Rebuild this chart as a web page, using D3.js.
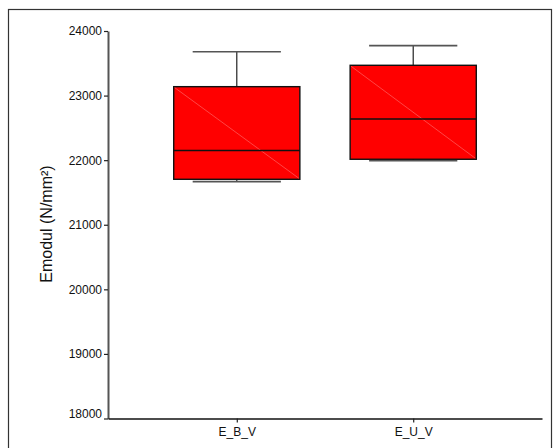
<!DOCTYPE html>
<html>
<head>
<meta charset="utf-8">
<script src="https://cdn.jsdelivr.net/npm/d3@7"></script>
<style>
  body { margin: 0; background: #fff; }
  svg { display: block; font-family: "Liberation Sans", Arial, sans-serif; }
</style>
</head>
<body>
<div id="chart"></div>
<script>
const width = 557;
const height = 448;

// Data
const categories = ["E_B_V", "E_U_V"];
const whiskerLow = [21667, 21992];
const quartile1 = [21704, 22014];
const medians = [22150, 22638];
const quartile3 = [23138, 23469];
const whiskerHigh = [23678, 23773];
const yTicks = [18000, 19000, 20000, 21000, 22000, 23000, 24000];

const boxes = categories.map((c, i) => ({
  cat: c,
  lo: whiskerLow[i],
  q1: quartile1[i],
  med: medians[i],
  q3: quartile3[i],
  hi: whiskerHigh[i]
}));

const svg = d3.select("#chart")
  .append("svg")
  .attr("width", width)
  .attr("height", height);

// outer frame
svg.append("rect")
  .attr("x", 8.5)
  .attr("y", 9.5)
  .attr("width", 543)
  .attr("height", 460)
  .attr("fill", "none")
  .attr("stroke", "#333")
  .attr("stroke-width", 1.2);

const xScale = d3.scalePoint()
  .domain(categories)
  .range([108, 542])
  .padding(0.73);

const yScale = d3.scaleLinear()
  .domain([18000, 24000])
  .range([418.5, 31]);

const step = xScale.step();
const boxW = step * 0.715;
const capW = step * 0.5;

// boxes
const g = svg.append("g");

boxes.forEach(d => {
  const cx = xScale(d.cat);
  // upper whisker
  g.append("line")
    .attr("x1", cx).attr("x2", cx)
    .attr("y1", yScale(d.hi)).attr("y2", yScale(d.q3))
    .attr("stroke", "#222").attr("stroke-width", 1.2);
  g.append("line")
    .attr("x1", cx - capW / 2).attr("x2", cx + capW / 2)
    .attr("y1", yScale(d.hi)).attr("y2", yScale(d.hi))
    .attr("stroke", "#555").attr("stroke-width", 1.6);
  // lower whisker
  g.append("line")
    .attr("x1", cx).attr("x2", cx)
    .attr("y1", yScale(d.q1)).attr("y2", yScale(d.lo))
    .attr("stroke", "#222").attr("stroke-width", 1.2);
  g.append("line")
    .attr("x1", cx - capW / 2).attr("x2", cx + capW / 2)
    .attr("y1", yScale(d.lo)).attr("y2", yScale(d.lo))
    .attr("stroke", "#555").attr("stroke-width", 1.6);

  // box
  g.append("rect")
    .attr("x", cx - boxW / 2)
    .attr("y", yScale(d.q3))
    .attr("width", boxW)
    .attr("height", yScale(d.q1) - yScale(d.q3))
    .attr("fill", "#ff0000")
    .attr("stroke", "#111")
    .attr("stroke-width", 1.4);

  // thin diagonal artifact
  g.append("line")
    .attr("x1", cx - boxW / 2 + 1).attr("x2", cx + boxW / 2 - 1)
    .attr("y1", yScale(d.q3) + 1).attr("y2", yScale(d.q1) - 1)
    .attr("stroke", "#ff8a8a").attr("stroke-width", 0.5);

  // median
  g.append("line")
    .attr("x1", cx - boxW / 2).attr("x2", cx + boxW / 2)
    .attr("y1", yScale(d.med)).attr("y2", yScale(d.med))
    .attr("stroke", "#111").attr("stroke-width", 1.4);
});

// axes
const leftAxis = d3.axisLeft(yScale)
  .tickValues(yTicks)
  .tickFormat(d3.format("d"))
  .tickSize(4)
  .tickPadding(2)
  .tickSizeOuter(0);

const yAxisG = svg.append("g")
  .attr("transform", "translate(108, 0)")
  .call(leftAxis);
yAxisG.select(".domain").attr("stroke", "#555").attr("stroke-width", 2);
yAxisG.selectAll(".tick line").attr("stroke", "#222").attr("stroke-width", 1.2);
yAxisG.selectAll(".tick text")
  .attr("font-size", 12)
  .attr("fill", "#111")
  .attr("font-family", "Liberation Sans, Arial, sans-serif");
// lowest label sits a little above its tick in the original
yAxisG.selectAll(".tick text")
  .filter(d => d === 18000)
  .attr("y", -5);

const bottomAxis = d3.axisBottom(xScale)
  .tickSize(4)
  .tickPadding(5)
  .tickSizeOuter(0);

const xAxisG = svg.append("g")
  .attr("transform", "translate(0, 418.5)")
  .call(bottomAxis);
xAxisG.select(".domain").attr("stroke", "#111").attr("stroke-width", 1.6);
xAxisG.selectAll(".tick line").attr("stroke", "#222").attr("stroke-width", 1.2);
xAxisG.selectAll(".tick text")
  .attr("font-size", 12)
  .attr("fill", "#111")
  .attr("font-family", "Liberation Sans, Arial, sans-serif");

// y axis title
svg.append("text")
  .attr("transform", "translate(52, 224) rotate(-90)")
  .attr("text-anchor", "middle")
  .attr("font-size", 16)
  .attr("fill", "#111")
  .text("Emodul (N/mm²)");
</script>
</body>
</html>
